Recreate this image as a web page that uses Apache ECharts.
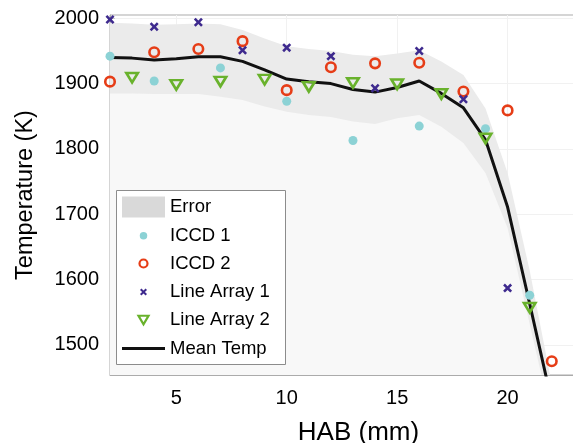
<!DOCTYPE html>
<html><head><meta charset="utf-8">
<script src="https://cdn.jsdelivr.net/npm/echarts@6/dist/echarts.min.js"></script>
<style>html,body{margin:0;padding:0;background:#fff}#c{width:573px;height:443px}</style>
</head><body><div id="c"></div>
<script>
// ---- data ----
const hab = [2,3,4,5,6,7,8,9,10,11,12,13,14,15,16,17,18,19,20,21,22];
const meanTemp = [1940,1939,1936,1938,1941,1941,1934,1921,1907,1903,1900,1891,1887,1894,1904,1885,1863,1814,1711,1563,1413];
const errUpper = [1993,1992,1990,1991,1992,1991,1982,1969,1957,1953,1950,1944,1942,1946,1951,1934,1913,1862,1763,1614,1440];
const errLower = [1885,1885,1884,1884,1884,1880,1875,1865,1857,1852,1849,1842,1838,1847,1852,1834,1809,1763,1679,1532,1385];
const iccd1X = [2,4,7,10,13,16,19,21];
const iccd1T = [1942,1904,1924,1873,1813,1835,1831,1576];
const iccd2X = [2,4,6,8,10,12,14,16,18,20,22];
const iccd2T = [1903,1948,1953,1965,1890,1925,1931,1932,1888,1859,1475];
const la1X = [2,4,6,8,10,12,14,16,18,20];
const la1T = [1998,1987,1994,1951,1955,1942,1893,1950,1876,1587];
const la2X = [3,5,7,9,11,13,15,17,19,21];
const la2T = [1909,1898,1903,1906,1895,1901,1899,1884,1816,1557];
const xTicks = [5,10,15,20];
const yTicks = [1500,1600,1700,1800,1900,2000];

const pair = (xs, ys) => xs.map((x, i) => [x, ys[i]]);
const FONT = 'Liberation Sans, Arial, sans-serif';
const C_CYAN = '#8cd2d5', C_RED = '#e63d17', C_PURPLE = '#3e2a8e', C_GREEN = '#69b22c';
const X_PATH = 'path://M0,2L2,0L5,3L8,0L10,2L7,5L10,8L8,10L5,7L2,10L0,8L3,5Z';
const TRI_PATH = 'path://M0,0L20,0L10,17Z';

// w = drawn icon width (used to centre icon at x=143.5, text starts at ~170)
const legendRows = [
  {name: 'Error', icon: 'rect', h: 21, w: 43, cy: 207, style: {color: '#d9d9d9', borderWidth: 0}},
  {name: 'ICCD 1', icon: 'circle', h: 7.5, w: 7.5, cy: 235.7, style: {color: C_CYAN, borderWidth: 0}},
  {name: 'ICCD 2', icon: 'circle', h: 8, w: 10.2, cy: 263.5, style: {color: 'rgba(0,0,0,0)', borderColor: C_RED, borderWidth: 2.2}},
  {name: 'Line Array 1', icon: X_PATH, h: 7, w: 7, cy: 292, style: {color: C_PURPLE, borderWidth: 0}},
  {name: 'Line Array 2', icon: TRI_PATH, h: 8.5, w: 12.2, cy: 320, style: {color: 'rgba(0,0,0,0)', borderColor: C_GREEN, borderWidth: 2.2}},
  {name: 'Mean Temp', icon: 'rect', h: 3, w: 43, cy: 348.5, style: {color: '#111', borderWidth: 0}}
];

const legends = legendRows.map(r => ({
  left: 143.5 - r.w / 2, top: r.cy - 11, padding: 0, itemWidth: 43, itemHeight: r.h,
  selectedMode: false, symbolKeepAspect: true,
  textStyle: {fontSize: 18.5, color: '#000', fontFamily: FONT, lineHeight: 22},
  data: [{name: r.name, icon: r.icon, itemStyle: r.style}]
}));

const chart = echarts.init(document.getElementById('c'), null, {renderer: 'canvas'});
chart.setOption({
  animation: false,
  backgroundColor: '#fff',
  grid: {left: 110, top: 15, right: -34, bottom: 68, show: true, borderColor: '#ababab', borderWidth: 1,
    backgroundColor: 'rgba(0,0,0,0)', containLabel: false, outerBoundsMode: 'none'},
  xAxis: {
    type: 'value', min: 2, max: 24.5,
    name: 'HAB (mm)', nameLocation: 'middle', nameGap: 45,
    nameTextStyle: {fontSize: 26, color: '#000', fontFamily: FONT},
    axisLine: {show: true, lineStyle: {color: '#ababab', width: 1}},
    axisTick: {show: true, inside: true, length: 5, customValues: xTicks, lineStyle: {color: '#c8c8c8'}},
    splitLine: {show: true, lineStyle: {color: '#f1f1f1', width: 1}},
    axisLabel: {fontSize: 20, color: '#000', fontFamily: FONT, margin: 13, customValues: xTicks,
      formatter: v => String(v)}
  },
  yAxis: {
    type: 'value', min: 1454, max: 2005,
    name: 'Temperature (K)', nameLocation: 'middle', nameGap: 72,
    nameTextStyle: {fontSize: 23.5, color: '#000', fontFamily: FONT},
    axisLine: {show: true, lineStyle: {color: '#ababab', width: 1}},
    axisTick: {show: true, inside: true, length: 5, customValues: yTicks, lineStyle: {color: '#c8c8c8'}},
    splitLine: {show: true, lineStyle: {color: '#f1f1f1', width: 1}},
    axisLabel: {fontSize: 20, color: '#000', fontFamily: FONT, margin: 11, customValues: yTicks,
      formatter: v => String(v)}
  },
  legend: legends,
  graphic: [{type: 'rect', z: 3, shape: {x: 116.5, y: 190.5, width: 169, height: 174},
    style: {fill: '#fff', stroke: '#8c8c8c', lineWidth: 1}}],
  series: [
    {name: 'Error', type: 'line', data: pair(hab, errUpper), symbol: 'none', z: 1,
      lineStyle: {width: 0, opacity: 0}, itemStyle: {color: '#d9d9d9'},
      areaStyle: {color: '#ebebeb', opacity: 1}},
    {name: 'ErrLow', type: 'line', data: pair(hab, errLower), symbol: 'none', z: 1,
      lineStyle: {width: 0, opacity: 0}, itemStyle: {color: '#f8f8f8'},
      areaStyle: {color: '#f8f8f8', opacity: 1}},
    {name: 'ICCD 1', type: 'scatter', data: pair(iccd1X, iccd1T), symbol: 'circle', symbolSize: 9, z: 2,
      itemStyle: {color: C_CYAN, opacity: 1}},
    {name: 'ICCD 2', type: 'scatter', data: pair(iccd2X, iccd2T), symbol: 'circle', symbolSize: 9.5, z: 2,
      itemStyle: {color: 'rgba(0,0,0,0)', borderColor: C_RED, borderWidth: 2.6, opacity: 1}},
    {name: 'Line Array 1', type: 'scatter', data: pair(la1X, la1T), symbol: X_PATH, symbolSize: 9, z: 2,
      itemStyle: {color: C_PURPLE, opacity: 1}},
    {name: 'Line Array 2', type: 'scatter', data: pair(la2X, la2T), symbol: TRI_PATH, symbolSize: [11.5, 9.5], z: 2,
      itemStyle: {color: 'rgba(0,0,0,0)', borderColor: C_GREEN, borderWidth: 2.6, opacity: 1}},
    {name: 'Mean Temp', type: 'line', data: pair(hab, meanTemp), symbol: 'none', showSymbol: false, z: 2,
      lineStyle: {color: '#111', width: 3}, itemStyle: {color: '#111'}}
  ]
});
</script></body></html>
